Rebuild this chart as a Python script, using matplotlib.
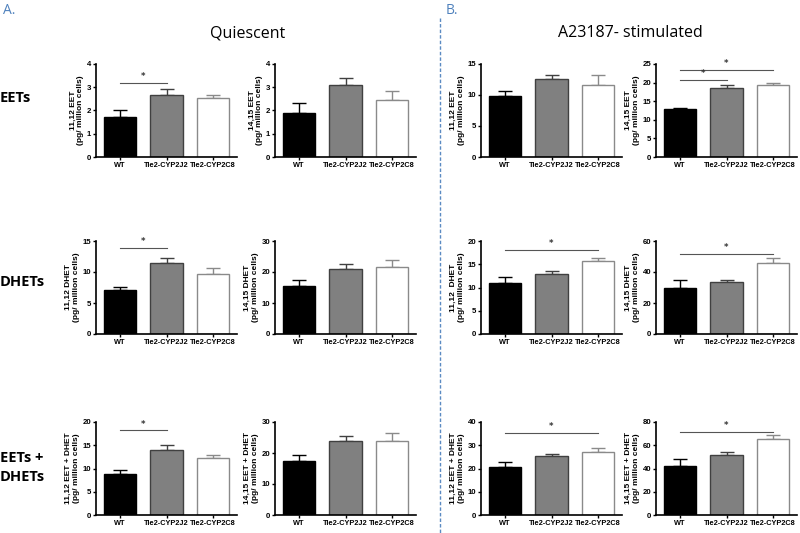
import matplotlib
matplotlib.use("Agg")
import matplotlib.pyplot as plt
from matplotlib.lines import Line2D
from matplotlib.font_manager import FontProperties

groups = ["WT", "Tie2-CYP2J2", "Tie2-CYP2C8"]

# Means and upper error for each panel
eet_q_1112 = [1.70, 2.68, 2.52]
eet_q_1112_err = [0.30, 0.24, 0.13]
eet_q_1415 = [1.90, 3.10, 2.45]
eet_q_1415_err = [0.42, 0.28, 0.37]
eet_s_1112 = [9.8, 12.5, 11.6]
eet_s_1112_err = [0.8, 0.8, 1.7]
eet_s_1415 = [13.0, 18.5, 19.4]
eet_s_1415_err = [0.3, 0.8, 0.6]

dhet_q_1112 = [7.1, 11.4, 9.7]
dhet_q_1112_err = [0.5, 0.8, 0.9]
dhet_q_1415 = [15.5, 21.0, 21.7]
dhet_q_1415_err = [1.8, 1.6, 2.1]
dhet_s_1112 = [11.0, 12.8, 15.7]
dhet_s_1112_err = [1.3, 0.7, 0.7]
dhet_s_1415 = [30.0, 33.3, 46.0]
dhet_s_1415_err = [5.0, 1.7, 3.0]

sum_q_1112 = [8.8, 14.0, 12.2]
sum_q_1112_err = [0.9, 1.1, 0.8]
sum_q_1415 = [17.3, 24.0, 24.0]
sum_q_1415_err = [1.9, 1.6, 2.5]
sum_s_1112 = [20.7, 25.3, 27.3]
sum_s_1112_err = [2.1, 0.9, 1.5]
sum_s_1415 = [42.5, 51.5, 65.5]
sum_s_1415_err = [5.5, 2.5, 3.0]

ylims = [[4, 4, 15, 25], [15, 30, 20, 60], [20, 30, 40, 80]]
ysteps = [[1, 1, 5, 5], [5, 10, 5, 20], [5, 10, 10, 20]]
ylabels = [["11,12 EET", "14,15 EET", "11,12 EET", "14,15 EET"],
           ["11,12 DHET", "14,15 DHET", "11,12  DHET", "14,15 DHET"],
           ["11,12 EET + DHET", "14,15 EET + DHET", "11,12 EET + DHET", "14,15 EET + DHET"]]
sig = {(0, 0): [(0, 1, 3.2)], (0, 3): [(0, 1, 20.8), (0, 2, 23.4)],
       (1, 0): [(0, 1, 13.9)], (1, 2): [(0, 2, 18.0)], (1, 3): [(0, 2, 51.6)],
       (2, 0): [(0, 1, 18.2)], (2, 2): [(0, 2, 35.4)], (2, 3): [(0, 2, 71.7)]}

data = [[(eet_q_1112, eet_q_1112_err), (eet_q_1415, eet_q_1415_err), (eet_s_1112, eet_s_1112_err), (eet_s_1415, eet_s_1415_err)],
        [(dhet_q_1112, dhet_q_1112_err), (dhet_q_1415, dhet_q_1415_err), (dhet_s_1112, dhet_s_1112_err), (dhet_s_1415, dhet_s_1415_err)],
        [(sum_q_1112, sum_q_1112_err), (sum_q_1415, sum_q_1415_err), (sum_s_1112, sum_s_1112_err), (sum_s_1415, sum_s_1415_err)]]

W, H = 800, 533
fig = plt.figure(figsize=(W / 100, H / 100), dpi=100)
fig.patch.set_facecolor("white")

col_left = [96, 275, 481, 656]
row_top = [64, 241, 422]
ax_w, ax_h = 141, 93

face = ["black", "#808080", "white"]
edge = ["black", "#404040", "#8a8a8a"]
ecol = ["black", "#404040", "#8a8a8a"]
xfont = dict(family="Liberation Sans", weight="bold", size=5.3)
yfont = dict(family="Liberation Sans", weight="bold", size=5.6)

for r in range(3):
    for c in range(4):
        l, t = col_left[c], row_top[r]
        ax = fig.add_axes([l / W, 1 - (t + ax_h) / H, ax_w / W, ax_h / H])
        vals, errs = data[r][c]
        x = list(range(3))
        for i in x:
            ax.bar(i, vals[i], width=0.7, color=face[i], edgecolor=edge[i], linewidth=1.0, zorder=2)
            ax.errorbar(i, vals[i], yerr=[[0], [errs[i]]], color=ecol[i], capsize=5,
                        elinewidth=1.0, capthick=1.0, zorder=1)
        ax.set_xlim(-0.52, 2.52)
        ax.set_ylim(0, ylims[r][c])
        ax.set_yticks([k * ysteps[r][c] for k in range(int(ylims[r][c] / ysteps[r][c]) + 1)])
        ax.set_xticks(x)
        ax.set_xticklabels(groups, fontdict=xfont)
        for lab in ax.get_yticklabels():
            lab.set_fontproperties(FontProperties(**yfont))
        ax.tick_params(axis="both", length=2, width=1.0, pad=1.5)
        ax.spines["top"].set_visible(False)
        ax.spines["right"].set_visible(False)
        ax.spines["left"].set_linewidth(1.2)
        ax.spines["bottom"].set_linewidth(1.2)
        ax.set_ylabel(ylabels[r][c] + "\n(pg/ million cells)",
                      fontdict=dict(family="Liberation Sans", weight="bold", size=6),
                      labelpad=2, linespacing=1.1)
        ax.patch.set_alpha(0)
        for (i, j, y) in sig.get((r, c), []):
            ax.plot([i, j], [y, y], color="#555555", linewidth=0.8, clip_on=False)
            ax.text((i + j) / 2, y + ylims[r][c] * 0.02, "*", ha="center", va="bottom",
                    fontsize=6, color="#333333", fontweight="bold")

ttl = dict(family="Open Sans", size=11.5)
fig.text(248 / W, 1 - 33 / H, "Quiescent", ha="center", va="center", **ttl)
fig.text(630 / W, 1 - 33 / H, "A23187- stimulated", ha="center", va="center", **ttl)
fig.text(3 / W, 1 - 10 / H, "A.", ha="left", va="center", family="Open Sans", size=10, color="#4f81bd")
fig.text(446 / W, 1 - 10 / H, "B.", ha="left", va="center", family="Open Sans", size=10, color="#4f81bd")
rl = dict(family="Open Sans", size=10.5, weight="bold", ha="left", va="center")
fig.text(0, 1 - 98 / H, "EETs", **rl)
fig.text(0, 1 - 282 / H, "DHETs", **rl)
fig.text(0, 1 - 458 / H, "EETs +", **rl)
fig.text(0, 1 - 477 / H, "DHETs", **rl)

fig.add_artist(Line2D([440 / W, 440 / W], [1 - 18 / H, 0], color="#5b8ac2", linewidth=1.0,
                      linestyle=(0, (2.5, 1.5)), transform=fig.transFigure))

fig.savefig("out.png", dpi=100)
